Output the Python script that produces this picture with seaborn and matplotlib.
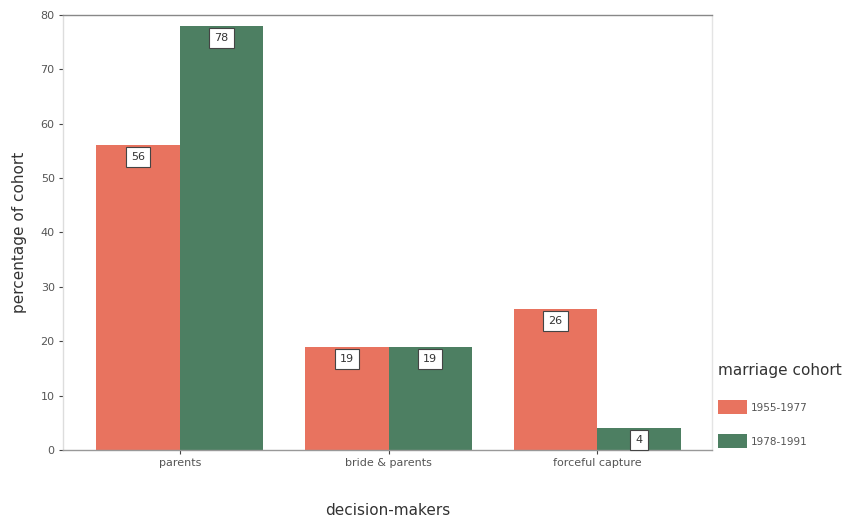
import matplotlib
matplotlib.use("Agg")
import matplotlib.pyplot as plt
import seaborn as sns
import pandas as pd

categories = ["parents", "bride & parents", "forceful capture"]
cohorts = ["1955-1977", "1978-1991"]
values_1955_1977 = [56, 19, 26]
values_1978_1991 = [78, 19, 4]
colors = ["#E8735F", "#4D7F62"]

df = pd.DataFrame({
    "decision": categories * 2,
    "cohort": [cohorts[0]] * 3 + [cohorts[1]] * 3,
    "pct": values_1955_1977 + values_1978_1991,
})

sns.set_theme(style="white")
plt.rcParams["font.family"] = ["DejaVu Sans"]

fig = plt.figure(figsize=(8.54, 5.22), dpi=100)
ax = fig.add_axes([0.0738, 0.1379, 0.7599, 0.8334])

sns.barplot(data=df, x="decision", y="pct", hue="cohort", order=categories,
            hue_order=cohorts, palette=colors, saturation=1, width=0.8,
            linewidth=0, ax=ax)

# value boxes near the top of each bar
for container in ax.containers:
    for bar in container:
        h = bar.get_height()
        ax.annotate(f"{h:.0f}", (bar.get_x() + bar.get_width() / 2, h),
                    xytext=(0, -5), textcoords="offset points",
                    ha="center", va="top", fontsize=8, color="#333333",
                    bbox=dict(boxstyle="square,pad=0.45", fc="white",
                              ec="#444444", lw=0.8))

ax.set_xlim(-0.56, 2.55)
ax.set_ylim(0, 80)
ax.set_yticks(range(0, 81, 10))
ax.tick_params(axis="both", which="major", labelsize=8, labelcolor="#555555",
               length=3, width=0.8, color="#444444", direction="out",
               bottom=True, left=True, pad=3)
ax.set_xlabel("decision-makers", fontsize=11, color="#333333", labelpad=25)
ax.set_ylabel("percentage of cohort", fontsize=11, color="#333333", labelpad=10)

ax.spines["left"].set_color("#DDDDDD")
ax.spines["right"].set_color("#E4E4E4")
ax.spines["top"].set_color("#888888")
ax.spines["bottom"].set_color("#999999")
for s in ax.spines.values():
    s.set_linewidth(1.0)

leg = ax.legend(title="marriage cohort", loc="upper left",
                bbox_to_anchor=(1.01, 0.2), frameon=False, fontsize=7.5,
                title_fontsize=11, handlelength=2.7, handleheight=1.7,
                labelspacing=1.9, handletextpad=0.4, borderaxespad=0,
                borderpad=0)
leg._legend_box.align = "left"
leg._legend_box.sep = 16
for t in leg.get_texts():
    t.set_color("#555555")
leg.get_title().set_color("#333333")

fig.savefig("out.png", dpi=100)
